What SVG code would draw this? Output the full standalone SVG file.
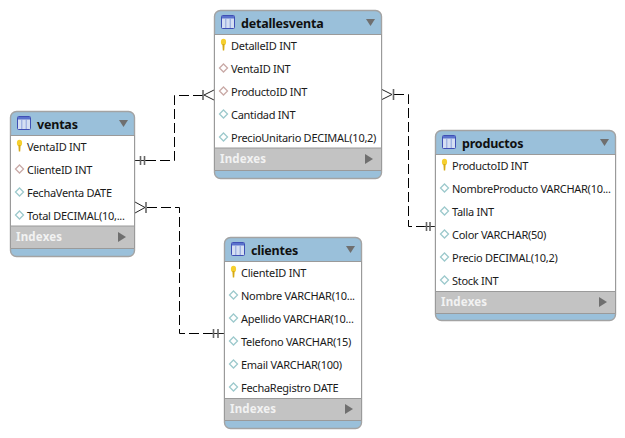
<svg xmlns="http://www.w3.org/2000/svg" width="625" height="438" viewBox="0 0 625 438">
<style>
.body{fill:#fff}
.outer{fill:#9ac0da;stroke:#a3a3a3;stroke-width:1.4}
.band{fill:#c3c3c3}
.sep{stroke:#9a9a9a;stroke-width:1;fill:none}
.title{font:bold 12.500px "Noto Sans","DejaVu Sans",sans-serif;fill:#101010;letter-spacing:-.2px}
.row{font:11px "Noto Sans","DejaVu Sans",sans-serif;fill:#1a1a1a;letter-spacing:-.27px}
.idx{font:bold 11.500px "Noto Sans","DejaVu Sans",sans-serif;fill:#f2f2f2;letter-spacing:.2px}
.tri{fill:#6f6f6f}
.dash{fill:none;stroke:#000;stroke-width:1;stroke-dasharray:10 4}
.solid{fill:none;stroke:#222;stroke-width:1}
.bar{fill:none;stroke:#666;stroke-width:1.6}
</style>
<defs>
<g id="tbl"><rect x=".5" y=".5" width="13" height="13" fill="#d5dff2" stroke="#3f4fb5" stroke-width="1" rx="1"/><path d="M1 1h12v2.500H1z" fill="#5a72cc"/><path d="M4.800 3.500v9.500M9.200 3.500v9.500" stroke="#8aa0dc" stroke-width="1"/></g>
<g id="key"><ellipse cx="0" cy="-3" rx="2.600" ry="3.200" fill="#f5cf2e"/><path d="M-1.100 -1h2.200l-.4 6.500h-1.400z" fill="#d6a913"/></g>
<path id="fk" d="M0 -4L4 0L0 4L-4 0Z" fill="#fff" stroke="#c9a9a6" stroke-width="1.300"/>
<path id="dm" d="M0 -4L4 0L0 4L-4 0Z" fill="#fff" stroke="#9cc9cc" stroke-width="1.300"/>
</defs>

<g id="connectors">
<path class="dash" d="M146 160.500H174.500V95.500H203"/>
<path class="solid" d="M135 160.500H146"/>
<path class="bar" d="M140.500 156V165M144.500 156V165M203 90V100"/>
<path class="solid" d="M214 90L204 95L214 100"/>
<path class="dash" d="M394 94.500H408.500V226.500H426"/>
<path class="solid" d="M381 89L392 94.500L381 100M424 226.500H435"/>
<path class="bar" d="M393.500 89V100M426.500 222V231M430 222V231"/>
<path class="dash" d="M147 207.500H179.500V333.500H213"/>
<path class="solid" d="M135 202L145 207.500L135 213M212 333.500H224"/>
<path class="bar" d="M146 202V213M213.500 329V338M218 329V338"/>
</g>

<g id="ventas">
<rect class="outer" x="10.500" y="111.500" width="124" height="145" rx="6"/>
<rect class="body" x="11" y="135.500" width="123" height="91"/>
<rect class="band" x="11" y="226" width="123" height="22"/>
<path class="sep" d="M10.500 135.500H134.500M10.500 226H134.500M10.500 248.500H134.500M10.500 135V248M134.500 135V248"/>
<use href="#tbl" x="17" y="116"/>
<text class="title" x="37" y="129">ventas</text>
<path class="tri" d="M119 120H128L123.500 127Z"/>
<use href="#key" x="19.500" y="146"/><text class="row" x="27" y="151">VentaID INT</text>
<use href="#fk" x="19.500" y="169"/><text class="row" x="27" y="174">ClienteID INT</text>
<use href="#dm" x="19.500" y="192"/><text class="row" x="27" y="197">FechaVenta DATE</text>
<use href="#dm" x="19.500" y="215"/><text class="row" x="27" y="220">Total DECIMAL(10,...</text>
<text class="idx" x="16" y="241">Indexes</text>
<path class="tri" d="M118 232L126 237L118 242Z"/>
</g>

<g id="detallesventa">
<rect class="outer" x="214.500" y="10.500" width="167" height="168" rx="6"/>
<rect class="body" x="215" y="34.500" width="166" height="114"/>
<rect class="band" x="215" y="148" width="166" height="22"/>
<path class="sep" d="M214.500 34.500H381.500M214.500 148H381.500M214.500 170.500H381.500M214.500 34V170M381.500 34V170"/>
<use href="#tbl" x="221" y="15"/>
<text class="title" x="241" y="28">detallesventa</text>
<path class="tri" d="M366 19H375L370.500 26Z"/>
<use href="#key" x="223.500" y="45"/><text class="row" x="231" y="50">DetalleID INT</text>
<use href="#fk" x="223.500" y="68"/><text class="row" x="231" y="73">VentaID INT</text>
<use href="#fk" x="223.500" y="91"/><text class="row" x="231" y="96">ProductoID INT</text>
<use href="#dm" x="223.500" y="114"/><text class="row" x="231" y="119">Cantidad INT</text>
<use href="#dm" x="223.500" y="137"/><text class="row" x="231" y="142">PrecioUnitario DECIMAL(10,2)</text>
<text class="idx" x="220" y="163">Indexes</text>
<path class="tri" d="M365 154L373 159L365 164Z"/>
</g>

<g id="productos">
<rect class="outer" x="435.500" y="130.500" width="180" height="190" rx="6"/>
<rect class="body" x="436" y="154.500" width="179" height="137"/>
<rect class="band" x="436" y="291" width="179" height="22"/>
<path class="sep" d="M435.500 154.500H615.500M435.500 291.500H615.500M435.500 313.500H615.500M435.500 154V313M615.500 154V313"/>
<use href="#tbl" x="442" y="135"/>
<text class="title" x="462" y="148">productos</text>
<path class="tri" d="M600 139H609L604.500 146Z"/>
<use href="#key" x="444.500" y="165"/><text class="row" x="452" y="170">ProductoID INT</text>
<use href="#dm" x="444.500" y="188"/><text class="row" x="452" y="193">NombreProducto VARCHAR(10...</text>
<use href="#dm" x="444.500" y="211"/><text class="row" x="452" y="216">Talla INT</text>
<use href="#dm" x="444.500" y="234"/><text class="row" x="452" y="239">Color VARCHAR(50)</text>
<use href="#dm" x="444.500" y="257"/><text class="row" x="452" y="262">Precio DECIMAL(10,2)</text>
<use href="#dm" x="444.500" y="280"/><text class="row" x="452" y="285">Stock INT</text>
<text class="idx" x="441" y="306">Indexes</text>
<path class="tri" d="M599 297L607 302L599 307Z"/>
</g>

<g id="clientes">
<rect class="outer" x="224.500" y="237.500" width="137" height="191" rx="6"/>
<rect class="body" x="225" y="261.500" width="136" height="137"/>
<rect class="band" x="225" y="398" width="136" height="22"/>
<path class="sep" d="M224.500 261.500H361.500M224.500 398.500H361.500M224.500 420.500H361.500M224.500 261V420M361.500 261V420"/>
<use href="#tbl" x="231" y="242"/>
<text class="title" x="251" y="255">clientes</text>
<path class="tri" d="M346 246H355L350.500 253Z"/>
<use href="#key" x="233.500" y="272"/><text class="row" x="241" y="277">ClienteID INT</text>
<use href="#dm" x="233.500" y="295"/><text class="row" x="241" y="300">Nombre VARCHAR(10...</text>
<use href="#dm" x="233.500" y="318"/><text class="row" x="241" y="323">Apellido VARCHAR(10...</text>
<use href="#dm" x="233.500" y="341"/><text class="row" x="241" y="346">Telefono VARCHAR(15)</text>
<use href="#dm" x="233.500" y="364"/><text class="row" x="241" y="369">Email VARCHAR(100)</text>
<use href="#dm" x="233.500" y="387"/><text class="row" x="241" y="392">FechaRegistro DATE</text>
<text class="idx" x="230" y="413">Indexes</text>
<path class="tri" d="M345 404L353 409L345 414Z"/>
</g>
</svg>
